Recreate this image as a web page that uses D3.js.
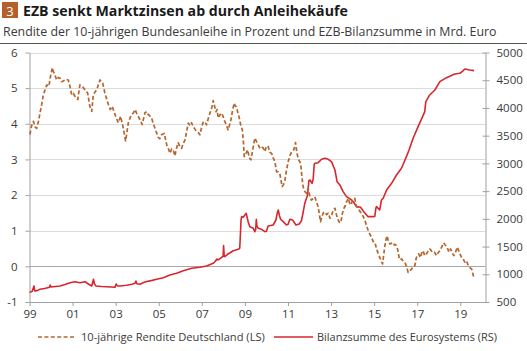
<!DOCTYPE html>
<html>
<head>
<meta charset="utf-8">
<script src="https://cdn.jsdelivr.net/npm/d3@7"></script>
<style>
  body { margin: 0; background: #fff; }
  svg { display: block; font-family: "Open Sans", "DejaVu Sans", sans-serif; }
</style>
</head>
<body>
<svg id="chart" width="527" height="351"></svg>
<script>
// Rendite 10-jaehrige Bundesanleihe in % (Jahr als Dezimalzahl, Wert)
const renditeDaten = [
  [1999.02, 3.70], [1999.10, 3.95], [1999.18, 4.07], [1999.26, 3.92], [1999.33, 3.87],
  [1999.41, 4.05], [1999.49, 4.31], [1999.57, 4.55], [1999.64, 4.81], [1999.72, 4.95],
  [1999.80, 5.09], [1999.90, 5.05], [1999.98, 5.35], [2000.06, 5.57], [2000.12, 5.45],
  [2000.18, 5.37], [2000.26, 5.23], [2000.34, 5.30], [2000.42, 5.28], [2000.50, 5.18],
  [2000.57, 5.20], [2000.68, 5.25], [2000.80, 5.23], [2000.88, 5.05], [2000.96, 4.81],
  [2001.04, 4.85], [2001.11, 4.77], [2001.24, 4.68], [2001.34, 5.09], [2001.45, 5.05],
  [2001.58, 4.95], [2001.70, 4.86], [2001.80, 4.49], [2001.89, 4.35], [2001.96, 4.81],
  [2002.05, 4.90], [2002.12, 4.95], [2002.20, 5.10], [2002.27, 5.23], [2002.40, 5.14],
  [2002.50, 4.86], [2002.58, 4.70], [2002.66, 4.54], [2002.75, 4.40], [2002.84, 4.49],
  [2002.92, 4.35], [2003.00, 4.21], [2003.12, 4.03], [2003.23, 4.21], [2003.35, 3.89],
  [2003.46, 3.52], [2003.52, 3.75], [2003.59, 4.03], [2003.66, 4.15], [2003.74, 4.26],
  [2003.82, 4.30], [2003.90, 4.40], [2003.97, 4.30], [2004.05, 4.21], [2004.14, 4.10],
  [2004.23, 3.98], [2004.36, 4.31], [2004.44, 4.34], [2004.51, 4.26], [2004.59, 4.22],
  [2004.67, 4.16], [2004.75, 4.00], [2004.82, 3.88], [2004.90, 3.75], [2004.98, 3.62],
  [2005.05, 3.58], [2005.13, 3.69], [2005.26, 3.73], [2005.37, 3.41], [2005.45, 3.30],
  [2005.52, 3.17], [2005.60, 3.30], [2005.67, 3.27], [2005.75, 3.10], [2005.82, 3.30],
  [2005.90, 3.47], [2005.98, 3.36], [2006.06, 3.31], [2006.14, 3.45], [2006.22, 3.55],
  [2006.30, 3.80], [2006.37, 4.02], [2006.45, 3.95], [2006.52, 4.03], [2006.60, 3.92],
  [2006.68, 3.85], [2006.76, 3.78], [2006.84, 3.75], [2006.91, 3.69], [2006.99, 3.90],
  [2007.07, 4.06], [2007.15, 4.05], [2007.22, 3.97], [2007.30, 4.15], [2007.38, 4.30],
  [2007.46, 4.45], [2007.53, 4.65], [2007.59, 4.50], [2007.66, 4.34], [2007.71, 4.40],
  [2007.76, 4.16], [2007.84, 4.25], [2007.92, 4.30], [2007.99, 4.20], [2008.07, 4.06],
  [2008.15, 3.95], [2008.22, 3.83], [2008.28, 3.95], [2008.35, 4.11], [2008.42, 4.35],
  [2008.50, 4.58], [2008.55, 4.50], [2008.61, 4.48], [2008.68, 4.30], [2008.74, 4.16],
  [2008.81, 3.95], [2008.88, 3.83], [2008.93, 3.50], [2008.97, 3.08], [2009.05, 3.17],
  [2009.13, 3.27], [2009.20, 3.05], [2009.28, 2.99], [2009.36, 3.25], [2009.46, 3.60],
  [2009.54, 3.50], [2009.62, 3.41], [2009.70, 3.31], [2009.77, 3.35], [2009.85, 3.32],
  [2009.93, 3.22], [2010.00, 3.38], [2010.08, 3.36], [2010.16, 3.20], [2010.24, 3.17],
  [2010.31, 3.05], [2010.39, 2.94], [2010.47, 2.66], [2010.55, 2.65], [2010.62, 2.61],
  [2010.68, 2.40], [2010.73, 2.24], [2010.80, 2.30], [2010.86, 2.42], [2010.93, 2.70],
  [2011.01, 2.94], [2011.09, 3.10], [2011.17, 3.22], [2011.27, 3.27], [2011.35, 3.47],
  [2011.41, 3.20], [2011.47, 3.03], [2011.53, 2.95], [2011.59, 2.89], [2011.64, 2.55],
  [2011.70, 2.24], [2011.78, 2.10], [2011.86, 2.05], [2011.94, 2.19], [2012.02, 1.95],
  [2012.09, 1.86], [2012.17, 1.90], [2012.25, 1.95], [2012.33, 1.80], [2012.40, 1.67],
  [2012.46, 1.45], [2012.51, 1.25], [2012.58, 1.40], [2012.64, 1.50], [2012.71, 1.53],
  [2012.79, 1.45], [2012.87, 1.49], [2012.95, 1.35], [2013.03, 1.44], [2013.10, 1.58],
  [2013.18, 1.63], [2013.25, 1.45], [2013.33, 1.30], [2013.40, 1.22], [2013.46, 1.25],
  [2013.53, 1.50], [2013.60, 1.63], [2013.66, 1.70], [2013.72, 1.81], [2013.80, 1.90],
  [2013.86, 1.78], [2013.92, 1.72], [2014.00, 1.85], [2014.10, 1.91], [2014.18, 1.68],
  [2014.26, 1.63], [2014.33, 1.55], [2014.41, 1.49], [2014.49, 1.40], [2014.57, 1.30],
  [2014.64, 1.15], [2014.72, 1.02], [2014.80, 0.90], [2014.88, 0.82], [2014.95, 0.70],
  [2015.03, 0.68], [2015.11, 0.50], [2015.19, 0.35], [2015.26, 0.25], [2015.33, 0.15],
  [2015.39, 0.07], [2015.45, 0.35], [2015.50, 0.58], [2015.55, 0.75], [2015.60, 0.86],
  [2015.66, 0.70], [2015.73, 0.63], [2015.80, 0.65], [2015.88, 0.58], [2015.96, 0.62],
  [2016.04, 0.58], [2016.10, 0.45], [2016.16, 0.25], [2016.21, 0.18], [2016.27, 0.21],
  [2016.35, 0.15], [2016.43, 0.11], [2016.50, 0.00], [2016.58, -0.17], [2016.66, -0.12],
  [2016.74, -0.08], [2016.81, 0.00], [2016.89, 0.02], [2016.95, 0.22], [2017.00, 0.30],
  [2017.07, 0.35], [2017.15, 0.25], [2017.21, 0.38], [2017.27, 0.44], [2017.35, 0.30],
  [2017.43, 0.35], [2017.50, 0.42], [2017.58, 0.49], [2017.64, 0.45], [2017.71, 0.39],
  [2017.80, 0.40], [2017.90, 0.30], [2017.97, 0.38], [2018.05, 0.44], [2018.14, 0.55],
  [2018.23, 0.66], [2018.30, 0.60], [2018.39, 0.54], [2018.47, 0.40], [2018.55, 0.49],
  [2018.62, 0.38], [2018.70, 0.30], [2018.78, 0.40], [2018.86, 0.54], [2018.92, 0.45],
  [2018.98, 0.35], [2019.06, 0.25], [2019.13, 0.21], [2019.21, 0.12], [2019.29, 0.16],
  [2019.35, 0.05], [2019.41, 0.00], [2019.47, -0.05], [2019.53, -0.08], [2019.58, -0.20],
  [2019.64, -0.34]
];

// Bilanzsumme des Eurosystems in Mrd. Euro
const bilanzDaten = [
  [1999.00, 675], [1999.12, 690], [1999.21, 789], [1999.24, 700], [1999.35, 705],
  [1999.49, 729], [1999.70, 745], [1999.93, 765], [1999.96, 807], [2000.00, 770],
  [2000.20, 780], [2000.42, 789], [2000.65, 815], [2000.88, 848], [2001.11, 866],
  [2001.34, 848], [2001.58, 866], [2001.73, 825], [2001.89, 789], [2001.97, 909],
  [2002.02, 820], [2002.09, 789], [2002.35, 780], [2002.58, 776], [2002.80, 770],
  [2002.97, 765], [2003.02, 825], [2003.08, 790], [2003.20, 789], [2003.51, 801],
  [2003.75, 820], [2003.90, 837], [2003.94, 879], [2003.98, 830], [2004.13, 819],
  [2004.30, 850], [2004.44, 870], [2004.70, 890], [2004.90, 909], [2005.21, 939],
  [2005.52, 987], [2005.83, 1018], [2006.14, 1065], [2006.53, 1108], [2006.91, 1126],
  [2007.22, 1149], [2007.53, 1198], [2007.62, 1230], [2007.70, 1275], [2007.76, 1258],
  [2007.92, 1306], [2007.99, 1320], [2008.01, 1516], [2008.04, 1330], [2008.07, 1318],
  [2008.22, 1366], [2008.46, 1425], [2008.69, 1450], [2008.76, 1469], [2008.79, 1700],
  [2008.82, 1979], [2008.85, 2039], [2008.92, 2028], [2009.02, 2080], [2009.06, 2100],
  [2009.15, 1949], [2009.23, 1858], [2009.39, 1829], [2009.46, 1768], [2009.50, 1800],
  [2009.53, 1992], [2009.56, 1871], [2009.62, 1829], [2009.77, 1811], [2009.93, 1768],
  [2010.00, 1775], [2010.08, 1871], [2010.20, 1880], [2010.31, 1889], [2010.44, 1979],
  [2010.50, 2100], [2010.55, 2160], [2010.60, 2060], [2010.66, 1992], [2010.78, 1949],
  [2010.93, 1889], [2011.00, 1900], [2011.09, 1992], [2011.21, 1979], [2011.30, 1930],
  [2011.37, 1889], [2011.52, 1907], [2011.62, 1960], [2011.68, 2069], [2011.78, 2280],
  [2011.91, 2430], [2011.97, 2690], [2012.02, 2701], [2012.12, 2641], [2012.17, 2720],
  [2012.22, 2990], [2012.25, 3002], [2012.40, 3013], [2012.56, 3074], [2012.71, 3092],
  [2012.87, 3074], [2013.02, 3031], [2013.18, 2881], [2013.28, 2670], [2013.41, 2611],
  [2013.56, 2490], [2013.72, 2400], [2013.95, 2340], [2014.05, 2300], [2014.18, 2220],
  [2014.37, 2208], [2014.52, 2129], [2014.72, 2039], [2014.93, 2039], [2015.03, 2045],
  [2015.08, 2190], [2015.11, 2220], [2015.26, 2160], [2015.34, 2340], [2015.42, 2371],
  [2015.58, 2520], [2015.81, 2641], [2016.04, 2791], [2016.27, 2912], [2016.50, 3121],
  [2016.62, 3242], [2016.81, 3453], [2017.04, 3662], [2017.25, 3843], [2017.35, 3933],
  [2017.38, 4050], [2017.40, 4113], [2017.58, 4234], [2017.82, 4324], [2018.05, 4474],
  [2018.36, 4546], [2018.74, 4613], [2018.98, 4626], [2019.10, 4660], [2019.21, 4703],
  [2019.44, 4685], [2019.64, 4673]
];

const jahrTicks = [1999, 2001, 2003, 2005, 2007, 2009, 2011, 2013, 2015, 2017, 2019];
const linksTicks = [-1, 0, 1, 2, 3, 4, 5, 6];
const rechtsTicks = [500, 1000, 1500, 2000, 2500, 3000, 3500, 4000, 4500, 5000];
const legendenTexte = ["10-jährige Rendite Deutschland (LS)", "Bilanzsumme des Eurosystems (RS)"];

const braun = "#b5652e";
const rot = "#d7262d";
const textFarbe = "#3a3a3a";

const svg = d3.select("#chart");

// Plotbereich
const links = 29.5, rechts = 485.5, oben = 52.5, unten = 302;

const x = d3.scaleLinear().domain([1999, 2020.17]).range([links, rechts]);
const yL = d3.scaleLinear().domain([-1, 6]).range([unten, oben]);
const yR = d3.scaleLinear().domain([500, 5000]).range([unten, oben]);

// Schrift so skalieren, dass der Text eine Zielbreite hat
function fitText(sel, width) {
  const w = sel.node().getComputedTextLength();
  const fs = parseFloat(sel.attr("font-size"));
  sel.attr("font-size", (fs * width / w).toFixed(2));
}

// Kopfzeile
svg.append("rect")
  .attr("x", 2).attr("y", 2).attr("width", 16).attr("height", 16)
  .attr("fill", "#b5602a");
svg.append("text")
  .attr("x", 10).attr("y", 15.5)
  .attr("text-anchor", "middle")
  .attr("font-size", 13)
  .attr("fill", "#fff")
  .text("3");

const titel = svg.append("text")
  .attr("x", 23).attr("y", 15.5)
  .attr("font-size", 14)
  .attr("font-weight", "bold")
  .attr("fill", "#1a1a1a")
  .text("EZB senkt Marktzinsen ab durch Anleihekäufe");
fitText(titel, 325);

const untertitel = svg.append("text")
  .attr("x", 3).attr("y", 36)
  .attr("font-size", 12)
  .attr("fill", textFarbe)
  .text("Rendite der 10-jährigen Bundesanleihe in Prozent und EZB-Bilanzsumme in Mrd. Euro");
fitText(untertitel, 494);

svg.append("line")
  .attr("x1", 0).attr("x2", 527)
  .attr("y1", 43.5).attr("y2", 43.5)
  .attr("stroke", "#555")
  .attr("stroke-width", 1.2);

// Gitterlinien an den Ticks der linken Achse
svg.append("g")
  .selectAll("line")
  .data(linksTicks.filter(d => d > -1))
  .enter()
  .append("line")
  .attr("x1", links).attr("x2", rechts)
  .attr("y1", d => Math.round(yL(d)) + 0.5)
  .attr("y2", d => Math.round(yL(d)) + 0.5)
  .attr("stroke", d => d === 0 ? "#a8a8a8" : "#dcdcdc")
  .attr("stroke-width", 1);

function styleAxis(g) {
  g.select(".domain").attr("stroke", "#a0a0a0");
  g.selectAll(".tick line").attr("stroke", "#a0a0a0");
  g.selectAll(".tick text")
    .attr("fill", textFarbe)
    .attr("font-size", 11.5)
    .attr("font-family", "'Open Sans', sans-serif");
}

// x-Achse
svg.append("g")
  .attr("transform", "translate(0," + unten + ")")
  .call(d3.axisBottom(x)
    .tickValues(jahrTicks)
    .tickFormat(d => String(d % 100).padStart(2, "0"))
    .tickSize(4)
    .tickSizeOuter(0)
    .tickPadding(4))
  .call(styleAxis);

// linke Achse
svg.append("g")
  .attr("transform", "translate(" + links + ",0)")
  .call(d3.axisLeft(yL)
    .tickValues(linksTicks)
    .tickFormat(d => d < 0 ? "-" + Math.abs(d) : String(d))
    .tickSize(4)
    .tickSizeOuter(0)
    .tickPadding(8))
  .call(styleAxis);

// rechte Achse
const achseR = svg.append("g")
  .attr("transform", "translate(" + rechts + ",0)")
  .call(d3.axisRight(yR)
    .tickValues(rechtsTicks)
    .tickFormat(d3.format("d"))
    .tickSize(4)
    .tickSizeOuter(0)
    .tickPadding(7))
  .call(styleAxis);
achseR.selectAll(".tick line").attr("x1", -3);

// Linien
const linie = d3.line()
  .x(d => x(d[0]));

svg.append("path")
  .datum(bilanzDaten)
  .attr("fill", "none")
  .attr("stroke", rot)
  .attr("stroke-width", 1.6)
  .attr("stroke-linejoin", "round")
  .attr("d", linie.y(d => yR(d[1])));

svg.append("path")
  .datum(renditeDaten)
  .attr("fill", "none")
  .attr("stroke", braun)
  .attr("stroke-width", 1.7)
  .attr("stroke-dasharray", "4,2.4")
  .attr("stroke-linejoin", "round")
  .attr("d", linie.y(d => yL(d[1])));

// Legende
const legY = 337;
const legende = [
  { x1: 38, x2: 76, tx: 81, w: 184, farbe: braun, dash: "4,2.4" },
  { x1: 274, x2: 313, tx: 317, w: 180, farbe: rot, dash: null }
];
legende.forEach(function(l, i) {
  svg.append("line")
    .attr("x1", l.x1).attr("x2", l.x2)
    .attr("y1", legY).attr("y2", legY)
    .attr("stroke", l.farbe)
    .attr("stroke-width", 1.6)
    .attr("stroke-dasharray", l.dash);
  const t = svg.append("text")
    .attr("x", l.tx).attr("y", legY + 4)
    .attr("font-size", 11.5)
    .attr("fill", textFarbe)
    .text(legendenTexte[i]);
  fitText(t, l.w);
});
</script>
</body>
</html>
